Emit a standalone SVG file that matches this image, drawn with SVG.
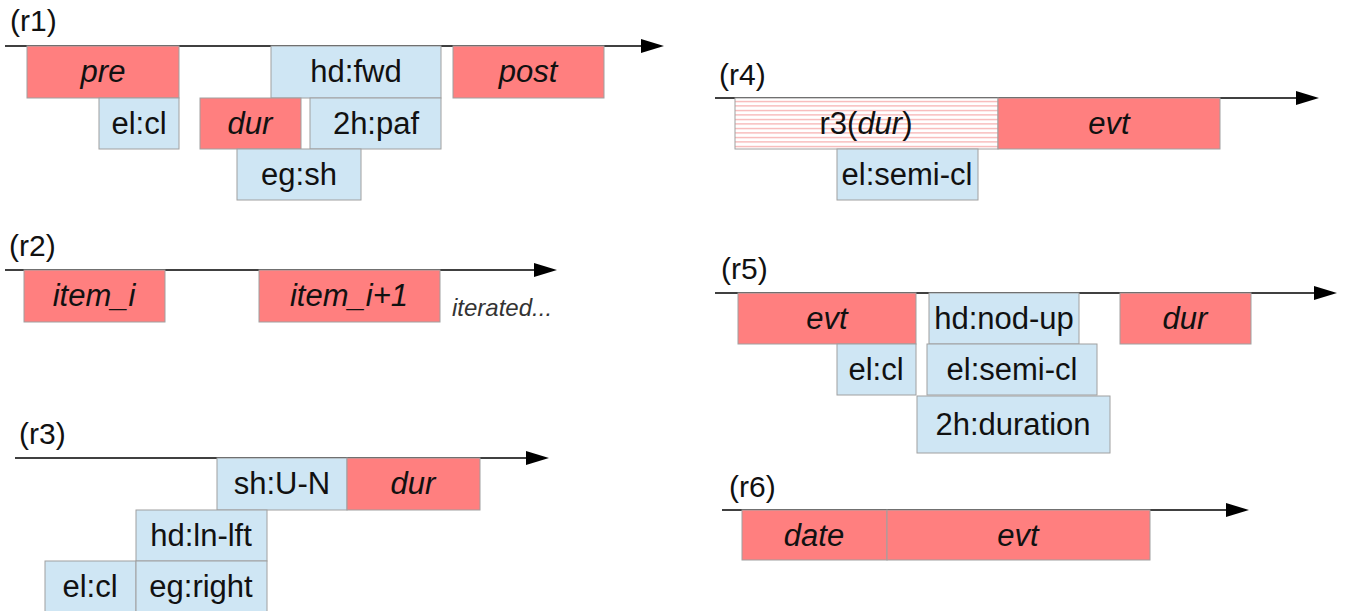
<svg xmlns="http://www.w3.org/2000/svg" width="1352" height="611" viewBox="0 0 1352 611">
<style>
.lbl{font-family:"Liberation Sans",Arial,sans-serif;font-size:30px;fill:#111}
.t{font-family:"Liberation Sans",Arial,sans-serif;font-size:31px;fill:#111;text-anchor:middle}
.i{font-style:italic}
.r{fill:#ff7f7f;stroke:#a0a0a0;stroke-width:1}
.b{fill:#cfe6f4;stroke:#a0a0a0;stroke-width:1}
.h{fill:url(#hatch);stroke:#a0a0a0;stroke-width:1}
.ax{stroke:#000;stroke-width:1.3;fill:none;marker-end:url(#arr)}
</style>
<defs>
<marker id="arr" markerUnits="userSpaceOnUse" markerWidth="24" markerHeight="16" refX="2" refY="8" orient="auto">
<path d="M0,1 L23,8 L0,15 Z" fill="#000"/>
</marker>
<pattern id="hatch" patternUnits="userSpaceOnUse" width="8" height="4.5">
<rect width="8" height="4.5" fill="#fff"/>
<rect y="2" width="8" height="1" fill="#f59a9a"/>
</pattern>
</defs>
<g id="connectors">
<path class="ax" d="M5,46 H643"/>
<path class="ax" d="M5,270 H536"/>
<path class="ax" d="M15,458 H528"/>
<path class="ax" d="M715,98 H1298"/>
<path class="ax" d="M715,293 H1316"/>
<path class="ax" d="M722,510 H1228"/>
</g>
<g id="labels">
<text class="lbl" x="10" y="31">(r1)</text>
<text class="lbl" x="9" y="256">(r2)</text>
<text class="lbl" x="19" y="444">(r3)</text>
<text class="lbl" x="719" y="85">(r4)</text>
<text class="lbl" x="721" y="279">(r5)</text>
<text class="lbl" x="729" y="497">(r6)</text>
</g>
<g id="r1">
<g id="r1-pre"><rect class="r" x="27" y="46" width="152" height="52"/><text class="t i" x="103" y="82">pre</text></g>
<g id="r1-elcl"><rect class="b" x="99" y="98" width="80" height="51"/><text class="t" x="139" y="134">el:cl</text></g>
<g id="r1-hdfwd"><rect class="b" x="271" y="46" width="170" height="52"/><text class="t" x="356" y="82">hd:fwd</text></g>
<g id="r1-dur"><rect class="r" x="200" y="98" width="101" height="51"/><text class="t i" x="250" y="134">dur</text></g>
<g id="r1-2hpaf"><rect class="b" x="310" y="98" width="131" height="51"/><text class="t" x="376" y="134">2h:paf</text></g>
<g id="r1-egsh"><rect class="b" x="237" y="149" width="124" height="51"/><text class="t" x="299" y="185">eg:sh</text></g>
<g id="r1-post"><rect class="r" x="453" y="46" width="151" height="52"/><text class="t i" x="528" y="82">post</text></g>
</g>
<g id="r2">
<g id="r2-item"><rect class="r" x="24" y="270" width="141" height="52"/><text class="t i" x="94" y="306">item_i</text></g>
<g id="r2-item1"><rect class="r" x="259" y="270" width="181" height="52"/><text class="t i" x="349" y="306">item_i+1</text></g>
<text x="452" y="316" style="font-family:'Liberation Sans',Arial,sans-serif;font-size:24px;font-style:italic;fill:#333">iterated...</text>
</g>
<g id="r3">
<g id="r3-shun"><rect class="b" x="217" y="458" width="130" height="52"/><text class="t" x="282" y="494">sh:U-N</text></g>
<g id="r3-dur"><rect class="r" x="347" y="458" width="133" height="52"/><text class="t i" x="413" y="494">dur</text></g>
<g id="r3-hdln"><rect class="b" x="136" y="510" width="131" height="51"/><text class="t" x="201" y="546">hd:ln-lft</text></g>
<g id="r3-elcl"><rect class="b" x="45" y="561" width="91" height="51"/><text class="t" x="90" y="597">el:cl</text></g>
<g id="r3-egright"><rect class="b" x="136" y="561" width="131" height="51"/><text class="t" x="201" y="597">eg:right</text></g>
</g>
<g id="r4">
<g id="r4-r3dur"><rect class="h" x="735" y="98" width="263" height="51"/><text class="t" x="866" y="134">r3(<tspan class="i">dur</tspan>)</text></g>
<g id="r4-evt"><rect class="r" x="998" y="98" width="222" height="51"/><text class="t i" x="1109" y="134">evt</text></g>
<g id="r4-elsemi"><rect class="b" x="837" y="149" width="141" height="51"/><text class="t" x="907" y="185">el:semi-cl</text></g>
</g>
<g id="r5">
<g id="r5-evt"><rect class="r" x="738" y="293" width="178" height="51"/><text class="t i" x="827" y="329">evt</text></g>
<g id="r5-hdnod"><rect class="b" x="929" y="293" width="150" height="51"/><text class="t" x="1004" y="329">hd:nod-up</text></g>
<g id="r5-dur"><rect class="r" x="1120" y="293" width="131" height="51"/><text class="t i" x="1185" y="329">dur</text></g>
<g id="r5-elcl"><rect class="b" x="837" y="344" width="79" height="51"/><text class="t" x="876" y="380">el:cl</text></g>
<g id="r5-elsemi"><rect class="b" x="927" y="344" width="170" height="51"/><text class="t" x="1012" y="380">el:semi-cl</text></g>
<g id="r5-2hdur"><rect class="b" x="917" y="396" width="193" height="57"/><text class="t" x="1013" y="435">2h:duration</text></g>
</g>
<g id="r6">
<g id="r6-date"><rect class="r" x="742" y="510" width="145" height="50"/><text class="t i" x="814" y="546">date</text></g>
<g id="r6-evt"><rect class="r" x="887" y="510" width="263" height="50"/><text class="t i" x="1018" y="546">evt</text></g>
</g>
</svg>
